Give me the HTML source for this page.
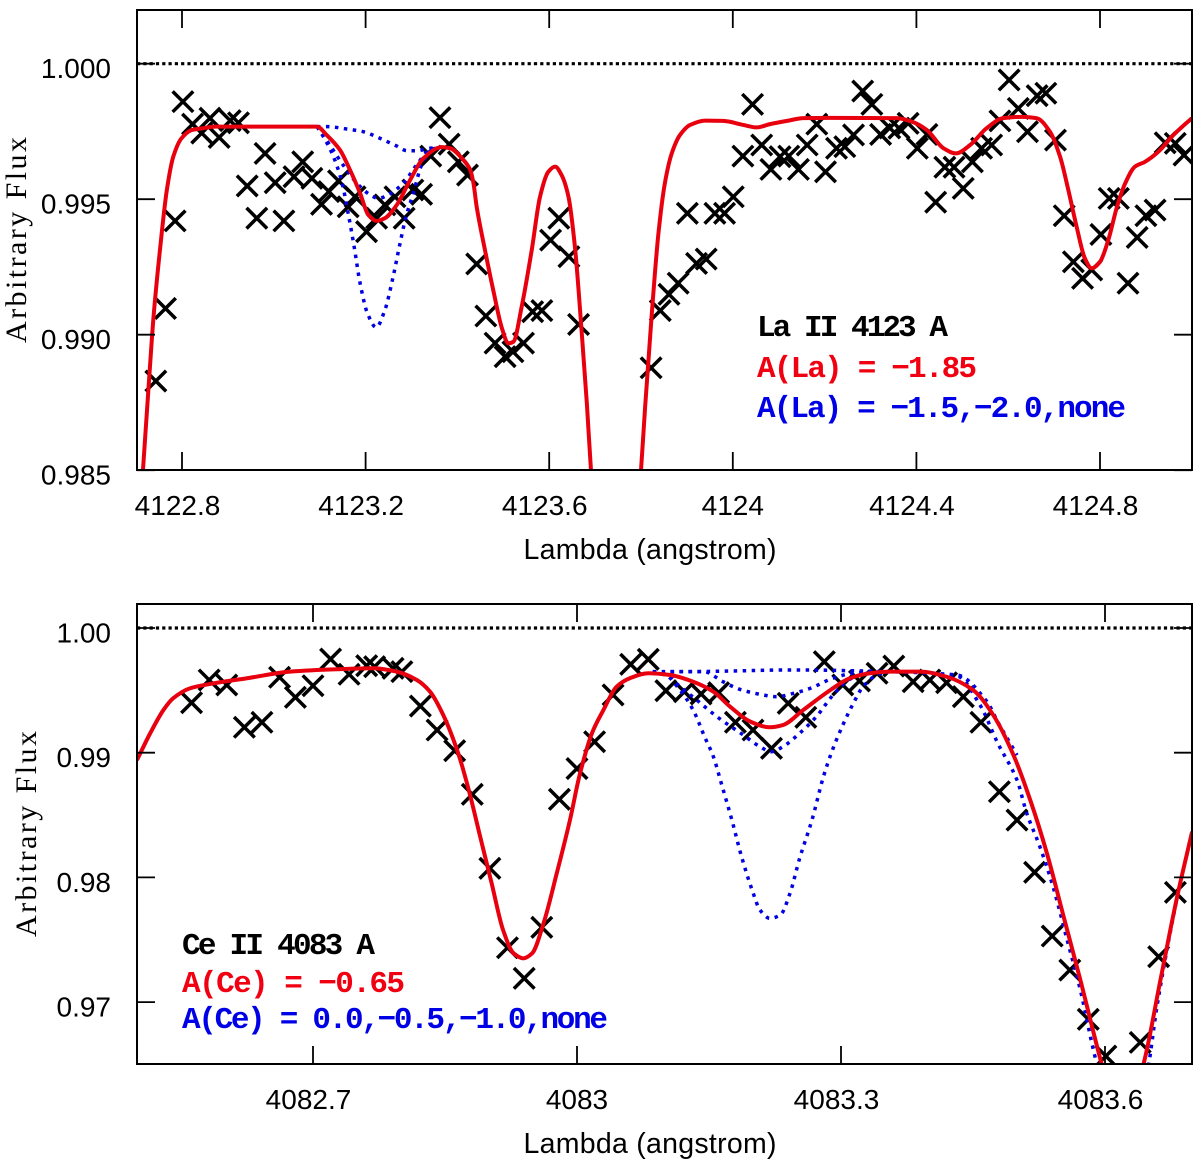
<!DOCTYPE html>
<html lang="en">
<head>
<meta charset="utf-8">
<title>La II and Ce II line fits</title>
<style>
html,body{margin:0;padding:0;background:#fff;}
svg{display:block;}
.tick-label{font-family:"Liberation Sans",sans-serif;font-size:28px;fill:#000;}
.axis-title{font-family:"Liberation Sans",sans-serif;font-size:28.5px;fill:#000;}
.y-title{font-family:"Liberation Serif",serif;font-size:30px;fill:#000;}
.note{font-family:"Liberation Mono",monospace;font-weight:bold;font-size:31px;}
</style>
</head>
<body>
<svg id="figure" xmlns="http://www.w3.org/2000/svg" width="1200" height="1163" viewBox="0 0 1200 1163">
  <defs>
    <clipPath id="clip-top"><rect x="137" y="10" width="1055" height="460"/></clipPath>
    <clipPath id="clip-bottom"><rect x="137" y="604" width="1055" height="460"/></clipPath>
  </defs>
  <g id="panel-top">
    <g id="top-marks" clip-path="url(#clip-top)"></g>
    <g id="top-axes"></g>
    <text class="y-title" transform="translate(26,240) rotate(-90)" text-anchor="middle" textLength="206" lengthAdjust="spacing">Arbitrary Flux</text>
    <text class="axis-title" x="650" y="559" text-anchor="middle" textLength="253" lengthAdjust="spacing">Lambda (angstrom)</text>
    <text class="note" x="757" y="336" fill="#000" textLength="191" lengthAdjust="spacing">La II 4123 A</text>
    <text class="note" x="757" y="377" fill="#f00010" textLength="220" lengthAdjust="spacing">A(La) = −1.85</text>
    <text class="note" x="757" y="417" fill="#0000e6" textLength="369" lengthAdjust="spacing">A(La) = −1.5,−2.0,none</text>
  </g>
  <g id="panel-bottom">
    <g id="bottom-marks" clip-path="url(#clip-bottom)"></g>
    <g id="bottom-axes"></g>
    <text class="y-title" transform="translate(36,834) rotate(-90)" text-anchor="middle" textLength="206" lengthAdjust="spacing">Arbitrary Flux</text>
    <text class="axis-title" x="650" y="1153" text-anchor="middle" textLength="253" lengthAdjust="spacing">Lambda (angstrom)</text>
    <text class="note" x="182" y="954" fill="#000" textLength="193" lengthAdjust="spacing">Ce II 4083 A</text>
    <text class="note" x="182" y="992" fill="#f00010" textLength="223" lengthAdjust="spacing">A(Ce) = −0.65</text>
    <text class="note" x="182" y="1028" fill="#0000e6" textLength="426" lengthAdjust="spacing">A(Ce) = 0.0,−0.5,−1.0,none</text>
  </g>
</svg>
<script>
// ---------- La II panel data ----------
const laXTicks = [4122.8, 4123.2, 4123.6, 4124, 4124.4, 4124.8];
const laXTickLabels = ["4122.8", "4123.2", "4123.6", "4124", "4124.4", "4124.8"];
const laYTicks = [1.000, 0.995, 0.990, 0.985];
const laYTickLabels = ["1.000", "0.995", "0.990", "0.985"];

const laObsWave = [4122.743,4122.764,4122.785,4122.802,4122.823,4122.843,4122.861,4122.881,4122.905,4122.923,4122.942,4122.963,4122.981,4123.003,4123.022,4123.044,4123.063,4123.083,4123.104,4123.120,4123.141,4123.162,4123.177,4123.202,4123.224,4123.242,4123.264,4123.284,4123.303,4123.322,4123.342,4123.362,4123.382,4123.402,4123.422,4123.442,4123.462,4123.482,4123.504,4123.521,4123.544,4123.564,4123.584,4123.603,4123.621,4123.643,4123.664,4123.822,4123.842,4123.861,4123.881,4123.901,4123.921,4123.942,4123.961,4123.982,4124.001,4124.022,4124.043,4124.063,4124.083,4124.103,4124.122,4124.143,4124.162,4124.183,4124.202,4124.226,4124.244,4124.263,4124.283,4124.303,4124.322,4124.342,4124.362,4124.382,4124.402,4124.423,4124.442,4124.462,4124.482,4124.502,4124.522,4124.542,4124.564,4124.582,4124.602,4124.622,4124.642,4124.663,4124.682,4124.703,4124.722,4124.742,4124.762,4124.782,4124.802,4124.820,4124.840,4124.861,4124.881,4124.900,4124.920,4124.942,4124.964,4124.983];
const laObsFlux = [0.98829,0.99097,0.9942,0.9986,0.99777,0.99744,0.99799,0.99728,0.9979,0.99782,0.99549,0.9943,0.99669,0.99561,0.9942,0.99583,0.99638,0.99577,0.99481,0.99528,0.99568,0.99472,0.99509,0.9938,0.9943,0.99479,0.99509,0.9943,0.99534,0.99518,0.99659,0.99801,0.99703,0.99638,0.99589,0.99261,0.99069,0.98969,0.98919,0.98937,0.98969,0.99085,0.99089,0.99349,0.9943,0.99288,0.99038,0.98878,0.99089,0.99149,0.9919,0.99448,0.99263,0.99279,0.99448,0.99448,0.99509,0.99659,0.9985,0.997,0.9961,0.99657,0.99659,0.9961,0.997,0.99777,0.99601,0.99688,0.99694,0.99737,0.99899,0.9985,0.99739,0.99763,0.99762,0.9978,0.99688,0.99739,0.99489,0.99618,0.99618,0.9954,0.99638,0.99688,0.997,0.99789,0.9994,0.99835,0.99749,0.99882,0.99891,0.99718,0.99439,0.99269,0.99208,0.99239,0.9937,0.99503,0.99503,0.9919,0.99359,0.99439,0.9946,0.99708,0.99706,0.99663];

const laFitWave = [4122.715,4122.730,4122.738,4122.752,4122.767,4122.781,4122.799,4122.821,4122.846,4122.872,4123.094,4123.115,4123.144,4123.166,4123.188,4123.206,4123.224,4123.242,4123.268,4123.297,4123.326,4123.366,4123.384,4123.413,4123.428,4123.435,4123.442,4123.460,4123.478,4123.497,4123.511,4123.522,4123.540,4123.562,4123.580,4123.598,4123.613,4123.627,4123.642,4123.656,4123.671,4123.682,4123.691,4123.711,4123.745,4123.778,4123.800,4123.809,4123.823,4123.838,4123.852,4123.867,4123.885,4123.907,4123.940,4123.979,4124.023,4124.052,4124.081,4124.118,4124.154,4124.212,4124.357,4124.390,4124.423,4124.459,4124.486,4124.517,4124.553,4124.589,4124.630,4124.662,4124.691,4124.713,4124.731,4124.749,4124.767,4124.782,4124.800,4124.818,4124.837,4124.855,4124.876,4124.898,4124.927,4124.960,4125.000];
const laFitFlux = [0.98501,0.98877,0.99066,0.99313,0.99534,0.99657,0.99725,0.99755,0.99762,0.99768,0.99768,0.99737,0.99682,0.99608,0.99522,0.99442,0.9942,0.9943,0.99479,0.99571,0.99651,0.99692,0.99688,0.99645,0.99608,0.99559,0.99472,0.99313,0.99165,0.99024,0.98968,0.98974,0.99103,0.99313,0.99509,0.99601,0.9962,0.99589,0.99509,0.99325,0.99005,0.98747,0.985,0.98058,0.97652,0.98058,0.985,0.98734,0.99066,0.99374,0.99559,0.99669,0.99737,0.99774,0.9979,0.99789,0.99774,0.99765,0.99777,0.99789,0.99799,0.998,0.99799,0.99786,0.99755,0.99688,0.99669,0.997,0.99762,0.99799,0.99804,0.99799,0.99749,0.99657,0.99534,0.99399,0.99282,0.99245,0.99269,0.99349,0.99472,0.99559,0.9962,0.99638,0.99675,0.99737,0.99799];

const laNoneWave = [4123.094,4123.115,4123.159,4123.195,4123.231,4123.268,4123.290,4123.311,4123.340,4123.366];
const laNoneFlux = [0.99768,0.99768,0.99759,0.99749,0.99725,0.99696,0.99679,0.99679,0.99688,0.99692];
const laLowWave = [4123.094,4123.122,4123.151,4123.181,4123.210,4123.228,4123.249,4123.282,4123.311,4123.340,4123.366];
const laLowFlux = [0.99768,0.997,0.99626,0.99559,0.99516,0.99503,0.99516,0.99559,0.99626,0.99682,0.99692];
const laHighWave = [4123.094,4123.108,4123.130,4123.148,4123.162,4123.175,4123.188,4123.204,4123.223,4123.242,4123.260,4123.275,4123.288,4123.304,4123.322,4123.344,4123.366];
const laHighFlux = [0.99768,0.99731,0.99657,0.99565,0.99448,0.99325,0.9919,0.99079,0.99027,0.99091,0.99214,0.99337,0.99435,0.99522,0.99626,0.99682,0.99692];

// ---------- Ce II panel data ----------
const ceXTicks = [4082.7, 4083, 4083.3, 4083.6];
const ceXTickLabels = ["4082.7", "4083", "4083.3", "4083.6"];
const ceYTicks = [1.00, 0.99, 0.98, 0.97];
const ceYTickLabels = ["1.00", "0.99", "0.98", "0.97"];

const ceObsWave = [4082.562,4082.582,4082.602,4082.622,4082.642,4082.662,4082.680,4082.700,4082.720,4082.741,4082.761,4082.770,4082.791,4082.801,4082.822,4082.841,4082.861,4082.881,4082.901,4082.921,4082.940,4082.960,4082.980,4083.000,4083.020,4083.041,4083.061,4083.081,4083.101,4083.122,4083.141,4083.161,4083.180,4083.200,4083.221,4083.240,4083.260,4083.281,4083.302,4083.321,4083.341,4083.360,4083.382,4083.401,4083.420,4083.439,4083.459,4083.480,4083.500,4083.520,4083.540,4083.560,4083.581,4083.601,4083.640,4083.661,4083.680];
const ceObsFlux = [0.99401,0.99583,0.99543,0.99204,0.99244,0.99605,0.99444,0.99537,0.99751,0.99629,0.99698,0.9969,0.99677,0.9965,0.99374,0.99182,0.99016,0.98666,0.98073,0.97436,0.97191,0.976,0.98626,0.98873,0.99088,0.99463,0.99709,0.99749,0.99497,0.99489,0.99471,0.99481,0.99244,0.99182,0.99035,0.99396,0.99284,0.9973,0.99543,0.99575,0.99637,0.99695,0.99569,0.99583,0.99561,0.99449,0.99244,0.98687,0.9846,0.98041,0.9753,0.97257,0.96862,0.96567,0.96677,0.97364,0.9788];

const ceFitWave = [4082.500,4082.515,4082.530,4082.541,4082.560,4082.587,4082.625,4082.674,4082.727,4082.769,4082.795,4082.818,4082.833,4082.848,4082.865,4082.877,4082.890,4082.903,4082.916,4082.928,4082.939,4082.949,4082.962,4082.977,4082.992,4083.003,4083.017,4083.030,4083.045,4083.060,4083.081,4083.106,4083.132,4083.155,4083.174,4083.197,4083.219,4083.234,4083.257,4083.288,4083.310,4083.333,4083.356,4083.390,4083.420,4083.450,4083.473,4083.496,4083.515,4083.534,4083.553,4083.572,4083.596,4083.608,4083.619,4083.631,4083.644,4083.663,4083.682,4083.699];
const ceFitFlux = [0.98941,0.99156,0.99342,0.99436,0.99516,0.99556,0.99597,0.9965,0.99669,0.99677,0.9965,0.99583,0.99489,0.99302,0.98995,0.98701,0.98326,0.97953,0.97578,0.97391,0.97351,0.97391,0.97632,0.98033,0.9846,0.98821,0.99156,0.99342,0.99529,0.99597,0.99637,0.99623,0.99569,0.99489,0.99369,0.99249,0.99204,0.99222,0.99342,0.99503,0.99597,0.99637,0.9965,0.9965,0.99609,0.99503,0.99302,0.98981,0.98621,0.98193,0.97685,0.97177,0.96509,0.96215,0.96094,0.96215,0.96509,0.97177,0.97845,0.98366];

const ceNoneWave = [4083.086,4083.125,4083.174,4083.238,4083.265,4083.307,4083.356,4083.432,4083.466,4083.477,4083.500];
const ceNoneFlux = [0.9965,0.9965,0.99655,0.99663,0.99663,0.99658,0.9965,0.99623,0.99409,0.99262,0.98981];
const ceLowWave = [4083.106,4083.144,4083.166,4083.185,4083.206,4083.227,4083.246,4083.265,4083.291,4083.318,4083.356];
const ceLowFlux = [0.9965,0.9965,0.99569,0.99508,0.99471,0.99449,0.99476,0.99516,0.99597,0.99642,0.9965];
const ceMidWave = [4083.086,4083.106,4083.113,4083.136,4083.159,4083.189,4083.208,4083.221,4083.234,4083.253,4083.272,4083.291,4083.310,4083.329,4083.356];
const ceMidFlux = [0.9965,0.99609,0.99556,0.99423,0.99289,0.99142,0.99048,0.99008,0.99048,0.99156,0.99289,0.99463,0.99589,0.99637,0.9965];
const ceHighWave = [4083.086,4083.098,4083.117,4083.132,4083.145,4083.155,4083.164,4083.176,4083.187,4083.199,4083.208,4083.219,4083.231,4083.242,4083.253,4083.267,4083.280,4083.291,4083.303,4083.314,4083.325,4083.341,4083.356,4083.432,4083.458,4083.478,4083.500,4083.511,4083.526,4083.541,4083.557,4083.572,4083.586,4083.594,4083.617,4083.647,4083.659,4083.674,4083.685];
const ceHighFlux = [0.9965,0.99637,0.99503,0.99342,0.99128,0.98968,0.98754,0.9846,0.98166,0.97899,0.97738,0.97672,0.97698,0.97872,0.98153,0.9846,0.98807,0.99035,0.99236,0.99396,0.99529,0.99623,0.9965,0.99615,0.99382,0.99078,0.98781,0.98516,0.98246,0.97925,0.97498,0.97097,0.96642,0.96415,0.95974,0.96415,0.96963,0.97554,0.97939];

// ---------- axis functions ----------
const FRAME_LEFT = 137, FRAME_RIGHT = 1192;
const laX = w => 182 + (w - 4122.8) * 459;
const laY = f => 63.7 + (1 - f) * 27100;
const ceX = w => 313 + (w - 4082.7) * 880;
const ceY = f => 628 + (1 - f) * 12470;

const SVG_NS = "http://www.w3.org/2000/svg";
const RED = "#e8000f", BLUE = "#0000e0";
const BLUE_DOTS = "3.5 5.5";

function smoothPath(wave, flux, xf, yf) {
  const xs = wave.map(xf), ys = flux.map(yf), n = xs.length;
  const d = [], m = new Array(n);
  for (let i = 0; i < n - 1; i++) d.push((ys[i + 1] - ys[i]) / (xs[i + 1] - xs[i]));
  m[0] = d[0]; m[n - 1] = d[n - 2];
  for (let i = 1; i < n - 1; i++) {
    m[i] = d[i - 1] * d[i] <= 0 ? 0 : 2 * d[i - 1] * d[i] / (d[i - 1] + d[i]);
  }
  let p = "M" + xs[0].toFixed(2) + " " + ys[0].toFixed(2);
  for (let i = 0; i < n - 1; i++) {
    const h = (xs[i + 1] - xs[i]) / 3;
    p += "C" + (xs[i] + h).toFixed(2) + " " + (ys[i] + m[i] * h).toFixed(2) + " " +
         (xs[i + 1] - h).toFixed(2) + " " + (ys[i + 1] - m[i + 1] * h).toFixed(2) + " " +
         xs[i + 1].toFixed(2) + " " + ys[i + 1].toFixed(2);
  }
  return p;
}

function addCurve(parent, name, wave, flux, xf, yf, color, width, dash) {
  const el = document.createElementNS(SVG_NS, "path");
  
  
  el.setAttribute("d", smoothPath(wave, flux, xf, yf));
  el.setAttribute("fill", "none");
  el.setAttribute("stroke", color);
  el.setAttribute("stroke-width", width);
  el.setAttribute("stroke-linejoin", "round");
  if (dash) el.setAttribute("stroke-dasharray", dash);
  parent.appendChild(el);
}

function addCrosses(parent, wave, flux, xf, yf) {
  for (let i = 0; i < wave.length; i++) {
    const cx = xf(wave[i]), cy = yf(flux[i]), r = 10.3;
    const el = document.createElementNS(SVG_NS, "path");
    
    
    el.setAttribute("d", "M" + (cx - r) + " " + (cy - r) + "L" + (cx + r) + " " + (cy + r) +
                         "M" + (cx - r) + " " + (cy + r) + "L" + (cx + r) + " " + (cy - r));
    el.setAttribute("stroke", "#000");
    el.setAttribute("stroke-width", "3.5");
    el.setAttribute("fill", "none");
    parent.appendChild(el);
  }
}

function addLine(parent, name, x1, y1, x2, y2, width, dash) {
  const el = document.createElementNS(SVG_NS, "line");
  
  
  el.setAttribute("x1", x1); el.setAttribute("y1", y1);
  el.setAttribute("x2", x2); el.setAttribute("y2", y2);
  el.setAttribute("stroke", "#000");
  el.setAttribute("stroke-width", width);
  if (dash) el.setAttribute("stroke-dasharray", dash);
  parent.appendChild(el);
}

function addLabel(parent, name, x, y, anchor, text) {
  const el = document.createElementNS(SVG_NS, "text");
  
  
  el.setAttribute("class", "tick-label");
  el.setAttribute("x", x); el.setAttribute("y", y);
  el.setAttribute("text-anchor", anchor);
  el.textContent = text;
  parent.appendChild(el);
}

function drawAxes(g, top, bottom, xf, yf, xTicks, xLabels, yTicks, yLabels) {
  const tickLen = 18;
  const frame = document.createElementNS(SVG_NS, "rect");
  
  
  frame.setAttribute("x", FRAME_LEFT); frame.setAttribute("y", top);
  frame.setAttribute("width", FRAME_RIGHT - FRAME_LEFT); frame.setAttribute("height", bottom - top);
  frame.setAttribute("fill", "none");
  frame.setAttribute("stroke", "#000");
  frame.setAttribute("stroke-width", "2");
  g.appendChild(frame);
  xTicks.forEach((t, i) => {
    const x = xf(t);
    addLine(g, "x-tick-bottom", x, bottom, x, bottom - tickLen, 1.8);
    addLine(g, "x-tick-top", x, top, x, top + tickLen, 1.8);
    addLabel(g, "x-tick-label", x + (xLabels[i].includes(".") ? -4.5 : 0), bottom + 45, "middle", xLabels[i]);
  });
  yTicks.forEach((t, i) => {
    const y = yf(t);
    addLine(g, "y-tick-left", FRAME_LEFT, y, FRAME_LEFT + tickLen, y, 1.8);
    addLine(g, "y-tick-right", FRAME_RIGHT, y, FRAME_RIGHT - tickLen, y, 1.8);
    addLabel(g, "y-tick-label", 111, y + 14.5, "end", yLabels[i]);
  });
  addLine(g, "continuum-line", FRAME_LEFT, yf(1), FRAME_RIGHT, yf(1), 3.2, "3.2 3.1");
}

// ---------- La II panel ----------
const topMarks = document.getElementById("top-marks");
addCrosses(topMarks, laObsWave, laObsFlux, laX, laY);
addCurve(topMarks, "la-none-curve", laNoneWave, laNoneFlux, laX, laY, BLUE, 3.5, BLUE_DOTS);
addCurve(topMarks, "la-minus-2-0-curve", laLowWave, laLowFlux, laX, laY, BLUE, 3.5, BLUE_DOTS);
addCurve(topMarks, "la-minus-1-5-curve", laHighWave, laHighFlux, laX, laY, BLUE, 3.5, BLUE_DOTS);
addCurve(topMarks, "la-best-fit-curve", laFitWave, laFitFlux, laX, laY, RED, 4);
drawAxes(document.getElementById("top-axes"), 10, 470, laX, laY, laXTicks, laXTickLabels, laYTicks, laYTickLabels);

// ---------- Ce II panel ----------
const bottomMarks = document.getElementById("bottom-marks");
addCrosses(bottomMarks, ceObsWave, ceObsFlux, ceX, ceY);
addCurve(bottomMarks, "ce-none-curve", ceNoneWave, ceNoneFlux, ceX, ceY, BLUE, 3.5, BLUE_DOTS);
addCurve(bottomMarks, "ce-minus-1-0-curve", ceLowWave, ceLowFlux, ceX, ceY, BLUE, 3.5, BLUE_DOTS);
addCurve(bottomMarks, "ce-minus-0-5-curve", ceMidWave, ceMidFlux, ceX, ceY, BLUE, 3.5, BLUE_DOTS);
addCurve(bottomMarks, "ce-0-0-curve", ceHighWave, ceHighFlux, ceX, ceY, BLUE, 3.5, BLUE_DOTS);
addCurve(bottomMarks, "ce-best-fit-curve", ceFitWave, ceFitFlux, ceX, ceY, RED, 4);
drawAxes(document.getElementById("bottom-axes"), 604, 1064, ceX, ceY, ceXTicks, ceXTickLabels, ceYTicks, ceYTickLabels);
</script>
</body>
</html>
